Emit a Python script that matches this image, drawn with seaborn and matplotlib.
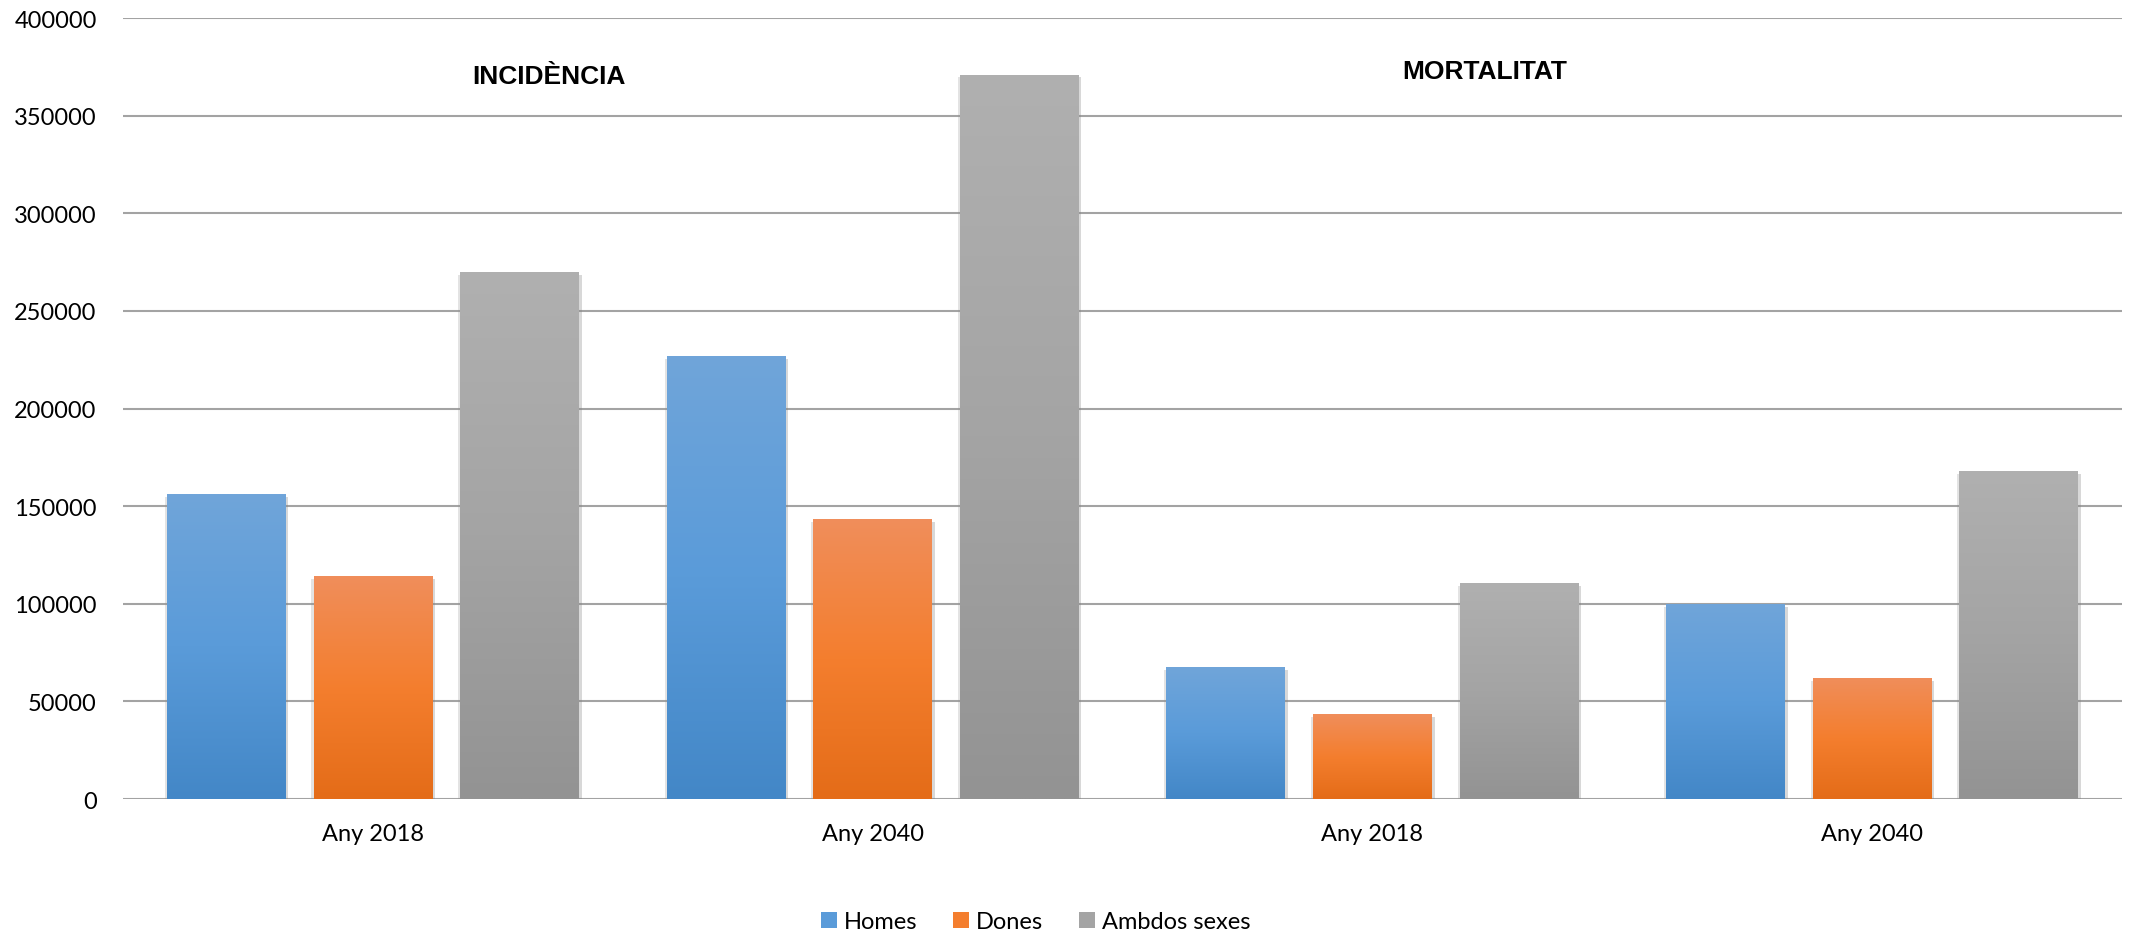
import numpy as np
import pandas as pd
import matplotlib
matplotlib.use("Agg")
import matplotlib.pyplot as plt
import matplotlib.patheffects as pe
from matplotlib.colors import LinearSegmentedColormap
from matplotlib.patches import Patch
import seaborn as sns

# ---- data ----
panels = ["INCIDÈNCIA", "MORTALITAT"]
years = ["Any 2018", "Any 2040"]
series = ["Homes", "Dones", "Ambdos sexes"]
homes = [156000, 227000, 67500, 100000]
dones = [114000, 143300, 43500, 62000]
ambdos = [270000, 371000, 110500, 168000]
yticks = [0, 50000, 100000, 150000, 200000, 250000, 300000, 350000, 400000]

# colours: (top, middle, bottom) of the vertical gradient
grad = {
    "Homes": ["#70A5DA", "#5A9BD9", "#4387C7"],
    "Dones": ["#F08E5B", "#F47E2E", "#E46C18"],
    "Ambdos sexes": ["#B0B0B0", "#A4A4A4", "#939393"],
}
mid = {k: v[1] for k, v in grad.items()}

keys = [f"{p} {y}" for p in panels for y in years]
ticklabels = [y for p in panels for y in years]
rows = []
for i, k in enumerate(keys):
    rows.append((k, "Homes", homes[i]))
    rows.append((k, "Dones", dones[i]))
    rows.append((k, "Ambdos sexes", ambdos[i]))
df = pd.DataFrame(rows, columns=["grup", "sexe", "valor"])

sns.set_theme(style="white")
plt.rcParams["font.family"] = ["Lato", "DejaVu Sans"]
plt.rcParams["text.color"] = "#000000"

fig = plt.figure(figsize=(21.29, 9.37), dpi=100)
ax = fig.add_axes([0.0578, 0.1462, 0.9967 - 0.0578, 0.9797 - 0.1462])

sns.barplot(data=df, x="grup", y="valor", hue="sexe", order=keys,
            hue_order=series, palette=mid, width=0.88, gap=0.19,
            errorbar=None, legend=False, ax=ax, linewidth=0, saturation=1)

# vertical gradients clipped to each bar
for cont, s in zip(ax.containers, series):
    cmap = LinearSegmentedColormap.from_list(s, grad[s][::-1])
    for bar in cont:
        x0, w, h = bar.get_x(), bar.get_width(), bar.get_height()
        bar.set_path_effects([
            pe.SimplePatchShadow(offset=(-1.5, -2), shadow_rgbFace="#909090", alpha=0.25),
            pe.SimplePatchShadow(offset=(2, -2), shadow_rgbFace="#808080", alpha=0.3),
            pe.Normal()])
        g = np.linspace(0, 1, 256).reshape(-1, 1)
        im = ax.imshow(g, cmap=cmap, origin="lower", aspect="auto",
                       extent=[x0, x0 + w, 0, h], zorder=bar.get_zorder() + 0.1,
                       interpolation="bilinear")
        im.set_clip_path(bar)

ax.set_xlim(-0.5, len(keys) - 0.5)
ax.set_ylim(0, 400000)
ax.set_yticks(yticks)
ax.set_yticklabels([str(v) for v in yticks])
ax.set_xticks(range(len(keys)))
ax.set_xticklabels(ticklabels)
ax.set_xlabel("")
ax.set_ylabel("")
for sp in ax.spines.values():
    sp.set_visible(False)
ax.set_axisbelow(True)
ax.yaxis.grid(True, color="#A3A3A3", linewidth=1.5)
ax.xaxis.grid(False)
ax.tick_params(axis="both", length=0, labelsize=17, labelcolor="#000000")
ax.tick_params(axis="y", pad=19)
ax.tick_params(axis="x", pad=17)

# panel titles
ax.text(0.213, 0.926, panels[0], transform=ax.transAxes, ha="center", va="center",
        fontsize=19, fontweight="bold", color="#000000",
        family=["Liberation Sans", "DejaVu Sans"])
ax.text(0.681, 0.932, panels[1], transform=ax.transAxes, ha="center", va="center",
        fontsize=19, fontweight="bold", color="#000000",
        family=["Liberation Sans", "DejaVu Sans"])

handles = [Patch(facecolor=mid[s], edgecolor="none", label=s) for s in series]
fig.legend(handles=handles, loc="center", bbox_to_anchor=(0.4864, 0.015),
           ncol=3, frameon=False, fontsize=17, handlelength=0.68, handleheight=0.68,
           handletextpad=0.3, columnspacing=1.5, borderpad=0, labelcolor="#000000")

fig.savefig("out.png", dpi=100)
